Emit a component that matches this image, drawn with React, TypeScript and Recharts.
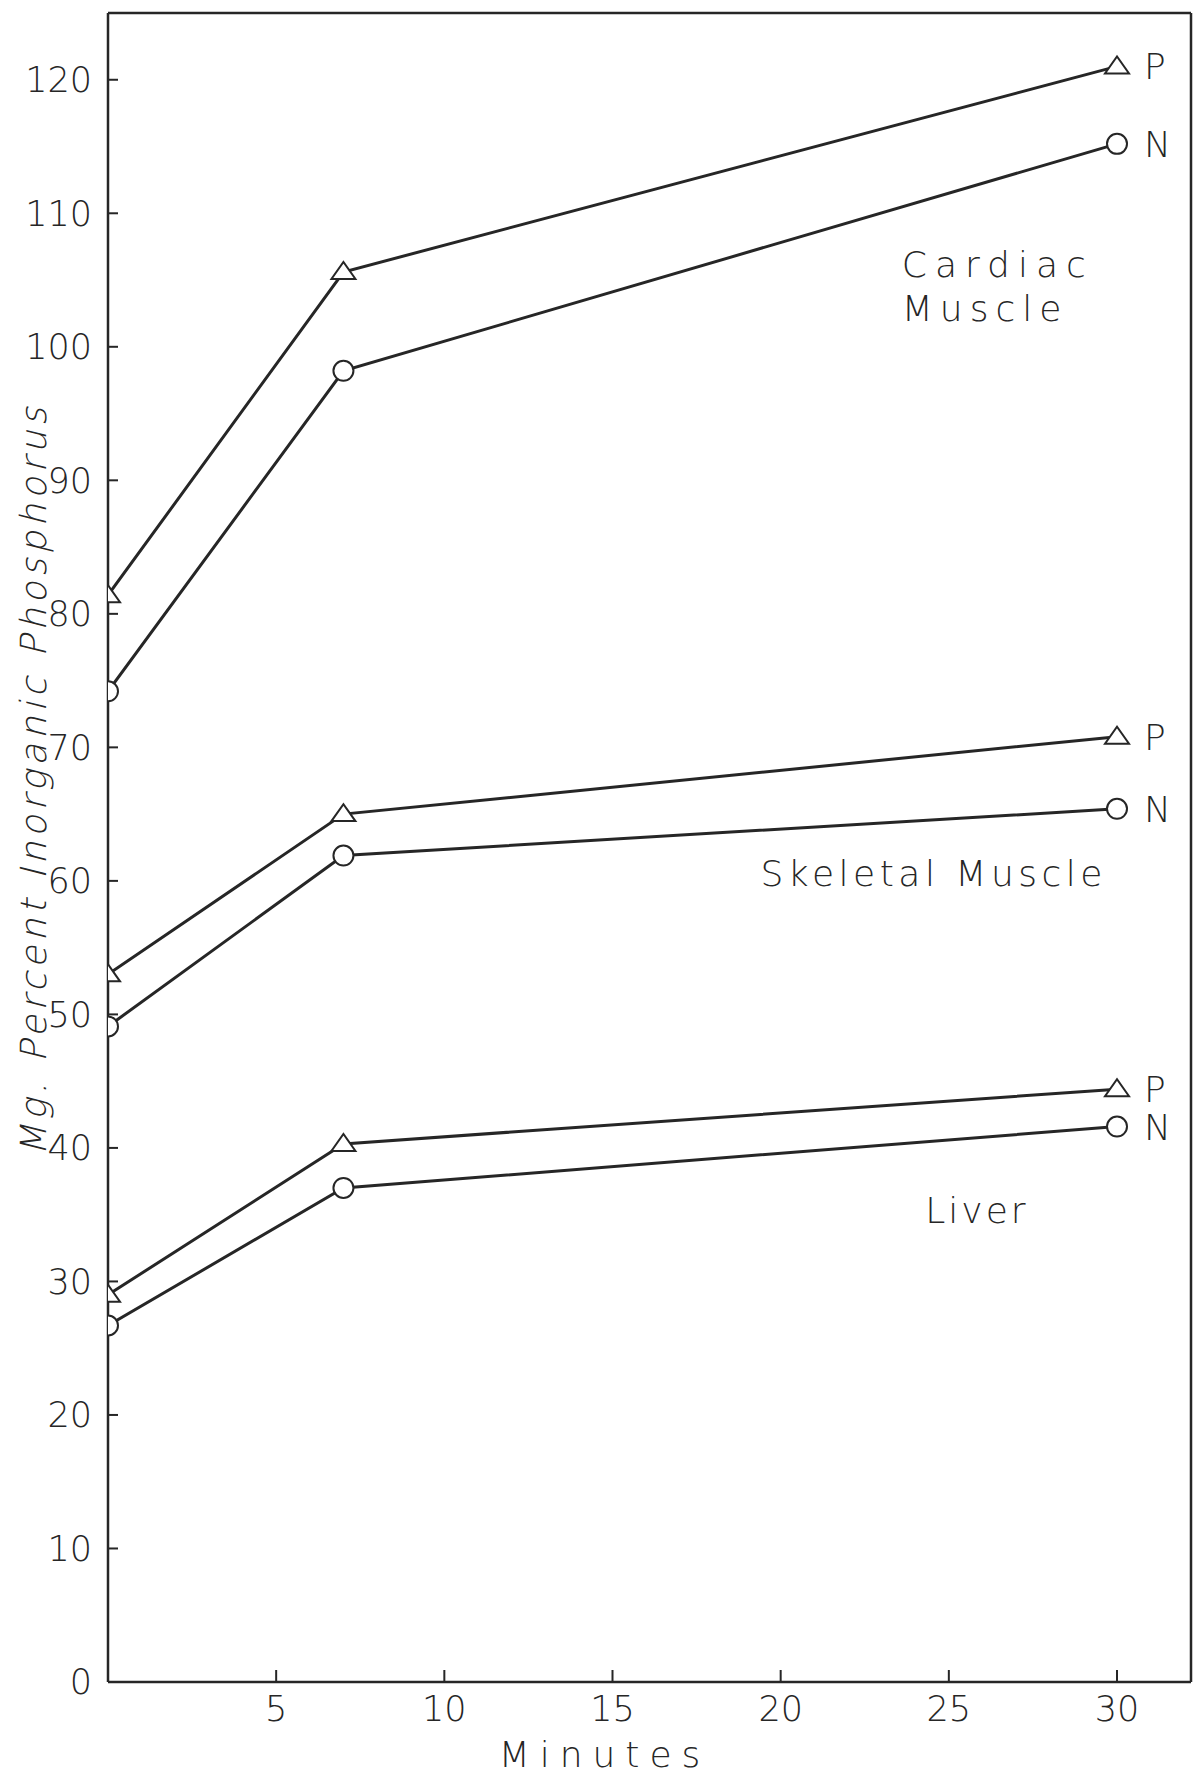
import React from 'react';
import {
  LineChart,
  Line,
  XAxis,
  YAxis,
  ReferenceLine,
  ReferenceDot
} from 'recharts';

// sampling times (minutes) and mg % inorganic phosphorus
const minutes = [0, 7, 30];
const cardiacP = [81.4, 105.6, 121.0];
const cardiacN = [74.2, 98.2, 115.2];
const skeletalP = [53.0, 65.0, 70.8];
const skeletalN = [49.1, 61.9, 65.4];
const liverP = [29.0, 40.3, 44.4];
const liverN = [26.7, 37.0, 41.6];

const xTicks = [5, 10, 15, 20, 25, 30];
const yTicks = [0, 10, 20, 30, 40, 50, 60, 70, 80, 90, 100, 110, 120];

// tissue names written inside the plot (data coordinates of text start / baseline)
const tissueLabels = [
  { text: 'Cardiac', x: 23.6, y: 105.2 },
  { text: 'Muscle', x: 23.6, y: 101.9 },
  { text: 'Skeletal Muscle', x: 19.4, y: 59.6 },
  { text: 'Liver', x: 24.3, y: 34.4 }
];

const series = [
  { key: 'cardiacP', values: cardiacP, marker: 'P' },
  { key: 'cardiacN', values: cardiacN, marker: 'N' },
  { key: 'skeletalP', values: skeletalP, marker: 'P' },
  { key: 'skeletalN', values: skeletalN, marker: 'N' },
  { key: 'liverP', values: liverP, marker: 'P' },
  { key: 'liverN', values: liverN, marker: 'N' }
];

const data = minutes.map((t, i) => {
  const row: Record<string, number> = { t };
  series.forEach((s) => {
    row[s.key] = s.values[i];
  });
  return row;
});

const INK = '#262626';
const FONT = '"DejaVu Sans", "Liberation Sans", sans-serif';

// letter spacing per tissue label, to match the wide hand lettering
const spacingFor: Record<string, number> = {
  Cardiac: 8,
  Muscle: 7,
  'Skeletal Muscle': 4.5,
  Liver: 3
};

const renderTriangle = (props: any) => {
  const { cx, cy, index } = props;
  if (cx == null || cy == null) return <g key={`t-${index}`} />;
  return (
    <path
      key={`t-${index}`}
      d={`M${cx - 12},${cy + 7} L${cx + 12},${cy + 7} L${cx},${cy - 10} Z`}
      fill="#fff"
      stroke={INK}
      strokeWidth={2}
    />
  );
};

const renderCircle = (props: any) => {
  const { cx, cy, index } = props;
  if (cx == null || cy == null) return <g key={`c-${index}`} />;
  return <circle key={`c-${index}`} cx={cx} cy={cy} r={10} fill="#fff" stroke={INK} strokeWidth={2} />;
};

const textAt = (text: string, dx: number, dy: number, spacing: number) => (props: any) => {
  const vb = props.viewBox || {};
  const x = (vb.x ?? 0) + (vb.width ?? 0) / 2 + dx;
  const y = (vb.y ?? 0) + (vb.height ?? 0) / 2 + dy;
  return (
    <text
      x={x}
      y={y}
      fill={INK}
      fontFamily={FONT}
      fontWeight={200}
      fontSize={36}
      letterSpacing={spacing}
    >
      {text}
    </text>
  );
};

const YTitle = (props: any) => {
  const vb = props.viewBox || {};
  const cx = (vb.x ?? 0) + 46;
  const cy = (vb.y ?? 0) + (vb.height ?? 0) / 2 - 68;
  return (
    <text
      x={0}
      y={0}
      transform={`translate(${cx}, ${cy}) rotate(-90) skewX(-14)`}
      textAnchor="middle"
      fill={INK}
      fontFamily={FONT}
      fontWeight={200}
      fontSize={36}
      letterSpacing={4.5}
    >
      Mg. Percent Inorganic Phosphorus
    </text>
  );
};

const XTitle = (props: any) => {
  const vb = props.viewBox || {};
  const cx = (vb.x ?? 0) + (vb.width ?? 0) / 2 - 45;
  const cy = (vb.y ?? 0) + 85;
  return (
    <text
      x={cx}
      y={cy}
      textAnchor="middle"
      fill={INK}
      fontFamily={FONT}
      fontWeight={200}
      fontSize={36}
      letterSpacing={10}
    >
      Minutes
    </text>
  );
};

const tickStyle = { fontSize: 35, fill: INK, fontFamily: FONT, fontWeight: 200 };

export default function App() {
  const last = minutes.length - 1;
  return (
    <div style={{ position: 'absolute', left: 0, top: 0, background: '#fff' }}>
      <LineChart
        width={1203}
        height={1778}
        data={data}
        margin={{ top: 13, right: 12, bottom: 0, left: 0 }}
      >
        <XAxis
          dataKey="t"
          type="number"
          domain={[0, 32.2]}
          ticks={xTicks}
          interval={0}
          allowDataOverflow
          height={96}
          stroke={INK}
          axisLine={{ stroke: INK, strokeWidth: 2.5 }}
          tickLine={{ stroke: INK, strokeWidth: 2 }}
          tickSize={-12}
          tickMargin={26}
          tick={tickStyle}
          label={{ content: XTitle }}
        />
        <YAxis
          type="number"
          domain={[0, 125]}
          ticks={yTicks}
          interval={0}
          allowDataOverflow
          width={108}
          stroke={INK}
          axisLine={{ stroke: INK, strokeWidth: 2.5 }}
          tickLine={{ stroke: INK, strokeWidth: 2 }}
          tickSize={-10}
          tickMargin={26}
          tick={tickStyle}
          label={{ content: YTitle }}
        />
        {/* frame on top and right */}
        <ReferenceLine y={125} stroke={INK} strokeWidth={2.5} />
        <ReferenceLine x={32.2} stroke={INK} strokeWidth={2.5} />

        {series.map((s) => (
          <Line
            key={s.key}
            type="linear"
            dataKey={s.key}
            stroke={INK}
            strokeWidth={3}
            dot={s.marker === 'P' ? renderTriangle : renderCircle}
            activeDot={false}
            isAnimationActive={false}
          />
        ))}

        {series.map((s) => (
          <ReferenceDot
            key={`end-${s.key}`}
            x={minutes[last]}
            y={s.values[last]}
            r={1}
            fill="none"
            stroke="none"
            label={{ content: textAt(s.marker, 27, 13, 0) }}
          />
        ))}

        {tissueLabels.map((l) => (
          <ReferenceDot
            key={l.text}
            x={l.x}
            y={l.y}
            r={1}
            fill="none"
            stroke="none"
            label={{ content: textAt(l.text, 0, 0, spacingFor[l.text] ?? 5) }}
          />
        ))}
      </LineChart>
    </div>
  );
}
